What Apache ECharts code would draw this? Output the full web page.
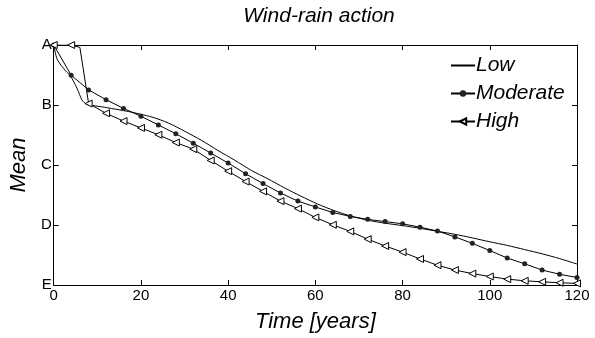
<!DOCTYPE html>
<html><head><meta charset="utf-8">
<script src="https://cdn.jsdelivr.net/npm/echarts@6/dist/echarts.min.js"></script>
<style>html,body{margin:0;padding:0;background:#fff}#c{width:595px;height:338px}</style>
</head><body><div id="c"></div>
<script>
// Grade labels for values 1..5
const gradeLabels = ['E', 'D', 'C', 'B', 'A'];
const xTickLabels = [0, 20, 40, 60, 80, 100, 120];
const seriesNames = ['Low', 'Moderate', 'High'];

// Moderate (markers every 4 years)
const moderateYears = [0,4,8,12,16,20,24,28,32,36,40,44,48,52,56,60,64,68,72,76,80,84,88,92,96,100,104,108,112,116,120];
const moderateValues = [5,4.496,4.252,4.089,3.943,3.813,3.667,3.520,3.363,3.200,3.033,2.854,2.691,2.533,2.398,2.301,2.208,2.143,2.094,2.057,2.020,1.964,1.899,1.802,1.694,1.574,1.450,1.353,1.249,1.179,1.125];

// High (markers every 4 years, plus one unmarked curve point at year 6)
const highYears = [0,4,6,8,12,16,20,24,28,32,36,40,44,48,52,56,60,64,68,72,76,80,84,88,92,96,100,104,108,112,116,120];
const highValues = [5,5,4.96,4.024,3.862,3.732,3.618,3.504,3.374,3.265,3.076,2.897,2.724,2.561,2.398,2.273,2.127,2.003,1.894,1.764,1.650,1.548,1.434,1.330,1.249,1.190,1.141,1.098,1.070,1.053,1.037,1.027];

// Low (unmarked smooth curve)
const lowYears = [0,0.8,2.7,3.8,5.4,6.5,7.6,11,17.2,22.5,26.3,30.1,33.9,37.7,41.5,45.3,49.1,52.9,56.7,60.5,64.3,68.1,72,76,80,84,88,92,96,100,104,108,112,116,120];
const lowValues = [5,4.76,4.57,4.49,4.27,4.08,4.01,3.97,3.89,3.80,3.70,3.56,3.41,3.24,3.08,2.91,2.77,2.62,2.48,2.35,2.24,2.15,2.08,2.03,1.99,1.945,1.895,1.845,1.785,1.72,1.66,1.59,1.52,1.44,1.35];

const pairs = (xs, ys) => xs.map((x, i) => [x, ys[i]]);
const font = 'Liberation Sans, Arial, sans-serif';

const chart = echarts.init(document.getElementById('c'), null, {renderer: 'canvas'});
const axisCommon = {
  axisLine: {show: true, onZero: false, lineStyle: {color: '#000', width: 1}},
  axisTick: {show: true, inside: true, length: 5, lineStyle: {color: '#000'}},
  splitLine: {show: false}
};
chart.setOption({
  animation: false,
  backgroundColor: '#fff',
  title: {
    text: 'Wind-rain action', left: 314, top: 1, textAlign: 'center',
    textStyle: {fontFamily: font, fontSize: 21, fontStyle: 'italic', fontWeight: 'normal', color: '#000'}
  },
  grid: {left: 51, right: 18, top: 45, bottom: 47, containLabel: false},
  legend: {
    data: [
      {name: 'Low', itemStyle: {opacity: 0}},
      {name: 'Moderate'},
      {name: 'High'}
    ],
    orient: 'vertical', left: 450, top: 55, padding: 0,
    itemWidth: 24, itemHeight: 8, itemGap: 7,
    textStyle: {fontFamily: font, fontSize: 21, fontStyle: 'italic', color: '#000', padding: [0, 0, 0, -4]}
  },
  xAxis: [
    Object.assign({
      type: 'value', min: 0, max: 120, interval: 20, position: 'bottom',
      axisLabel: {color: '#000', fontFamily: font, fontSize: 15, margin: 3},
      name: 'Time [years]', nameLocation: 'middle', nameGap: 26,
      nameTextStyle: {fontFamily: font, fontSize: 22, fontStyle: 'italic', color: '#000'}
    }, axisCommon),
    Object.assign({
      type: 'value', min: 0, max: 120, interval: 20, position: 'top',
      axisLabel: {show: false}
    }, axisCommon)
  ],
  yAxis: [
    Object.assign({
      type: 'value', min: 1, max: 5, interval: 1, position: 'left',
      axisLabel: {color: '#000', fontFamily: font, fontSize: 15, margin: 2,
        formatter: v => gradeLabels[Math.round(v) - 1]},
      name: 'Mean', nameLocation: 'middle', nameGap: 20, nameRotate: 90,
      nameTextStyle: {fontFamily: font, fontSize: 22, fontStyle: 'italic', color: '#000'}
    }, axisCommon),
    Object.assign({
      type: 'value', min: 1, max: 5, interval: 1, position: 'right',
      axisLabel: {show: false}
    }, axisCommon)
  ],
  series: [
    {
      name: 'Low', type: 'line', data: pairs(lowYears, lowValues),
      showSymbol: false, symbol: 'none', smooth: 0.25,
      lineStyle: {color: '#000', width: 1}, itemStyle: {color: '#000'}
    },
    {
      name: 'Moderate', type: 'line', data: pairs(moderateYears, moderateValues),
      symbol: 'circle', symbolSize: 5, showAllSymbol: true,
      lineStyle: {color: '#000', width: 1}, itemStyle: {color: '#222'}
    },
    {
      name: 'High', type: 'line',
      data: highYears.map((x, i) => x % 4 === 0 ? [x, highValues[i]] : {value: [x, highValues[i]], symbol: 'none'}),
      symbol: 'triangle', symbolRotate: 90, symbolSize: 7, showAllSymbol: true,
      lineStyle: {color: '#000', width: 1},
      itemStyle: {color: '#fff', borderColor: '#000', borderWidth: 1}
    }
  ]
});
</script></body></html>
